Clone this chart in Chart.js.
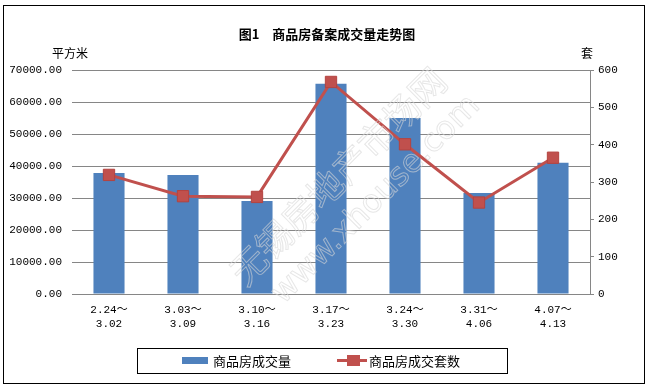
<!DOCTYPE html>
<html>
<head>
<meta charset="utf-8">
<script src="https://cdn.jsdelivr.net/npm/chart.js@4"></script>
<style>
  html, body { margin: 0; padding: 0; background: #fff; }
  #wrap { position: absolute; left: 0; top: 0; width: 652px; height: 390px; }
</style>
</head>
<body>
<div id="wrap"><canvas id="myChart" width="652" height="390"></canvas></div>
<script>
// datos
var semanas = [['2.24～', '3.02'], ['3.03～', '3.09'], ['3.10～', '3.16'], ['3.17～', '3.23'],
               ['3.24～', '3.30'], ['3.31～', '4.06'], ['4.07～', '4.13']];
var area = [37800, 37200, 29100, 65700, 55000, 31600, 41000];   // 平方米
var tao = [319, 262, 260, 568, 401, 245, 365];                  // 套
var ticksIzq = [0, 10000, 20000, 30000, 40000, 50000, 60000, 70000];
var ticksDer = [0, 100, 200, 300, 400, 500, 600];

var titulo = '图1　商品房备案成交量走势图';
var unidadIzq = '平方米';
var unidadDer = '套';
var marcaAgua = ['无锡房地产市场网', 'www.xhouse.com'];

var azul = '#4F81BD';
var rojo = '#C0504D';
var gris = '#868686';
var numFont = '"Liberation Mono", "Noto Sans CJK SC", monospace';
var cjkFont = '"Noto Sans CJK SC", sans-serif';

// marco, titulo, unidades y leyenda
var extras = {
    id: 'extras',
    beforeDraw: function(chart) {
        var ctx = chart.ctx;
        ctx.save();
        ctx.fillStyle = '#fff';
        ctx.fillRect(0, 0, chart.width, chart.height);
        ctx.strokeStyle = '#000';
        ctx.lineWidth = 1;
        ctx.strokeRect(3.5, 5.5, 641, 378);
        ctx.restore();
    },
    afterDatasetsDraw: function(chart) {
        var ctx = chart.ctx;
        // marca de agua
        ctx.save();
        ctx.translate(338, 176);
        ctx.rotate(-Math.PI / 4);
        ctx.strokeStyle = 'rgba(215,215,215,0.6)';
        ctx.lineWidth = 1;
        ctx.textAlign = 'center';
        ctx.textBaseline = 'middle';
        ctx.font = '36px ' + cjkFont;
        ctx.strokeText(marcaAgua[0], 0, 0);
        ctx.font = '32px "DejaVu Sans", sans-serif';
        ctx.strokeText(marcaAgua[1], 10, 44);
        ctx.restore();
    },
    afterDraw: function(chart) {
        var ctx = chart.ctx;
        ctx.save();
        ctx.fillStyle = '#000';
        ctx.textBaseline = 'middle';
        ctx.textAlign = 'center';
        ctx.font = 'bold 13px ' + cjkFont;
        ctx.fillText(titulo, 327, 34);

        ctx.font = '12px ' + cjkFont;
        ctx.textAlign = 'left';
        ctx.fillText(unidadIzq, 52, 53);
        ctx.fillText(unidadDer, 581, 53);

        // leyenda
        var barras = chart.data.datasets[0];
        var linea = chart.data.datasets[1];
        ctx.strokeStyle = '#000';
        ctx.lineWidth = 1;
        ctx.strokeRect(137.5, 348.5, 370, 25);

        ctx.fillStyle = barras.backgroundColor;
        ctx.fillRect(182, 357, 26, 7);
        ctx.fillStyle = '#000';
        ctx.font = '13px ' + cjkFont;
        ctx.fillText(barras.label, 213, 361);

        ctx.strokeStyle = linea.borderColor;
        ctx.lineWidth = 3;
        ctx.beginPath();
        ctx.moveTo(337, 360.5);
        ctx.lineTo(367, 360.5);
        ctx.stroke();
        ctx.fillStyle = linea.pointBackgroundColor;
        ctx.fillRect(347, 355, 13, 11);
        ctx.fillStyle = '#000';
        ctx.fillText(linea.label, 369, 361);
        ctx.restore();
    }
};

var ctx = document.getElementById('myChart').getContext('2d');
var myChart = new Chart(ctx, {
    type: 'bar',
    data: {
        labels: semanas,
        datasets: [
            {
                type: 'bar',
                label: '商品房成交量',
                data: area,
                yAxisID: 'y',
                order: 1,
                backgroundColor: azul,
                categoryPercentage: 1,
                barPercentage: 0.42
            },
            {
                type: 'line',
                label: '商品房成交套数',
                data: tao,
                yAxisID: 'y1',
                order: 0,
                borderColor: rojo,
                borderWidth: 3,
                pointStyle: 'rect',
                pointRadius: 8,
                pointBackgroundColor: rojo,
                pointBorderColor: '#B4433F',
                pointBorderWidth: 1,
                tension: 0
            }
        ]
    },
    options: {
        responsive: false,
        animation: false,
        layout: { padding: { top: 70, left: 0, right: 0, bottom: 0 } },
        plugins: {
            legend: { display: false },
            title: { display: false },
            tooltip: { enabled: false }
        },
        scales: {
            x: {
                grid: { display: false, drawTicks: false },
                border: { display: true, color: gris },
                ticks: {
                    color: '#000',
                    font: { family: numFont, size: 11, lineHeight: 1.25 },
                    padding: 9,
                    maxRotation: 0,
                    autoSkip: false
                },
                afterFit: function(scale) { scale.height = 96; }
            },
            y: {
                position: 'left',
                min: 0,
                max: 70000,
                afterBuildTicks: function(scale) {
                    scale.ticks = ticksIzq.map(function(v) { return { value: v }; });
                },
                grid: { color: gris, drawTicks: false },
                border: { display: false },
                ticks: {
                    color: '#000',
                    font: { family: numFont, size: 11 },
                    padding: 10,
                    callback: function(v) { return Number(v).toFixed(2); }
                },
                afterFit: function(scale) { scale.width = 72; }
            },
            y1: {
                position: 'right',
                min: 0,
                max: 600,
                afterBuildTicks: function(scale) {
                    scale.ticks = ticksDer.map(function(v) { return { value: v }; });
                },
                grid: { drawOnChartArea: false, drawTicks: true, tickLength: 4, color: gris },
                border: { display: true, color: gris },
                ticks: {
                    color: '#000',
                    font: { family: numFont, size: 11 },
                    padding: 4
                },
                afterFit: function(scale) { scale.width = 62; }
            }
        }
    },
    plugins: [extras]
});
</script>
</body>
</html>
